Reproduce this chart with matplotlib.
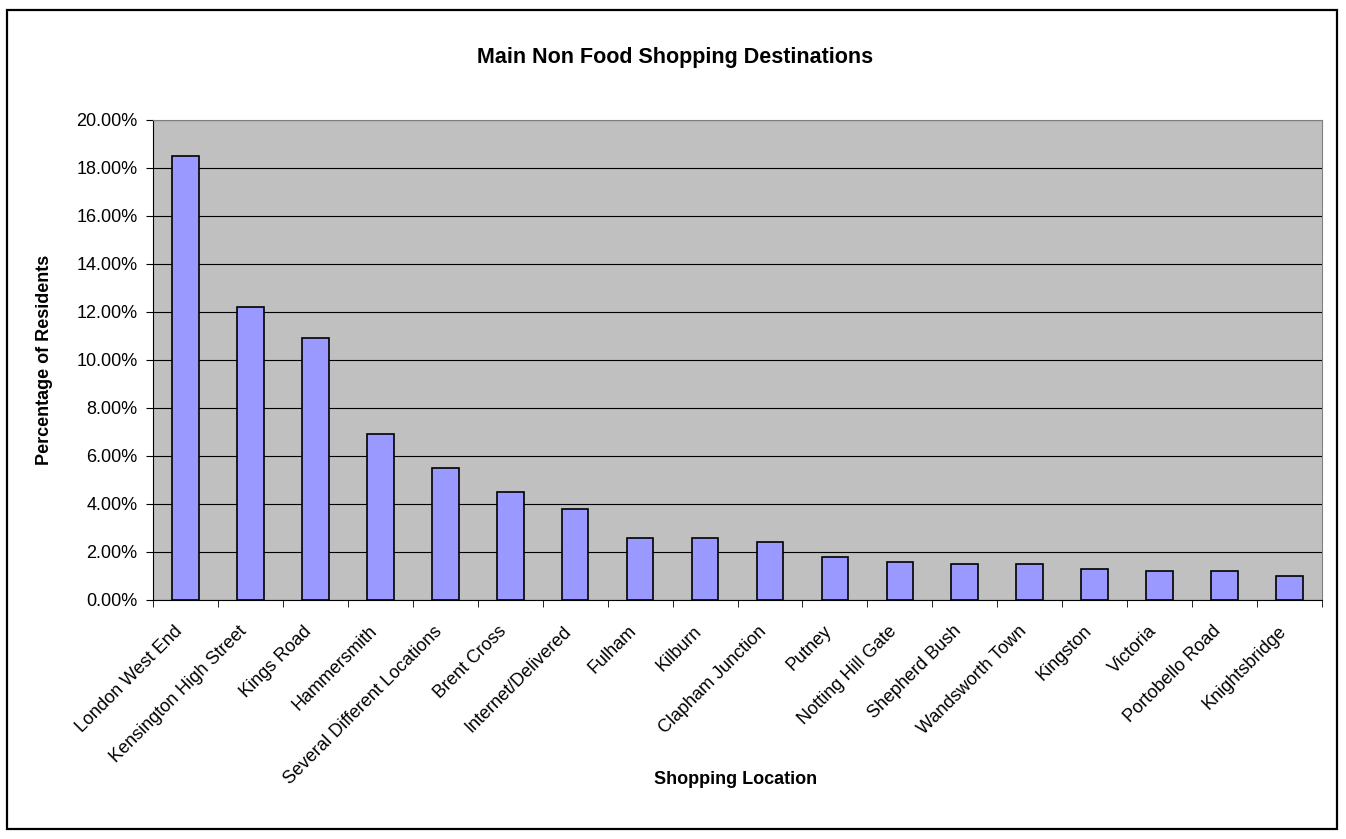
import matplotlib

matplotlib.use("Agg")
import matplotlib.pyplot as plt
import numpy as np
from matplotlib.patches import Rectangle
from matplotlib.ticker import FuncFormatter, FixedLocator, NullFormatter
from matplotlib.transforms import ScaledTranslation

plt.rcParams["font.family"] = ["Liberation Sans", "DejaVu Sans"]

locations = [
    "London West End", "Kensington High Street", "Kings Road", "Hammersmith",
    "Several Different Locations", "Brent Cross", "Internet/Delivered", "Fulham",
    "Kilburn", "Clapham Junction", "Putney", "Notting Hill Gate", "Shepherd Bush",
    "Wandsworth Town", "Kingston", "Victoria", "Portobello Road", "Knightsbridge",
]
share = [18.5, 12.2, 10.9, 6.9, 5.5, 4.5, 3.8, 2.6, 2.6, 2.4,
         1.8, 1.6, 1.5, 1.5, 1.3, 1.2, 1.2, 1.0]
y_ticks = [0, 2, 4, 6, 8, 10, 12, 14, 16, 18, 20]

W, H = 1346, 839
fig = plt.figure(figsize=(W / 100, H / 100), dpi=100)
fig.patches.append(Rectangle((0.0055, 0.012), 0.988, 0.976, transform=fig.transFigure,
                             fill=False, edgecolor="black", linewidth=1.6))

ax = fig.add_axes([153 / W, 1 - 600 / H, (1322 - 153) / W, 480 / H])
ax.set_facecolor("#C0C0C0")
x = np.arange(len(locations))
ax.bar(x, share, width=0.41, color="#9999FF", edgecolor="black", linewidth=1.2, zorder=3)

ax.set_xlim(-0.5, len(locations) - 0.5)
ax.set_ylim(0, 20)
ax.set_yticks(y_ticks)
ax.yaxis.set_major_formatter(FuncFormatter(lambda v, _: f"{v:.2f}%"))
ax.grid(axis="y", color="black", linewidth=0.8, zorder=1)
ax.tick_params(axis="y", direction="out", length=5, labelsize=13, pad=6)

# category labels centred on bars, tick marks between categories
ax.set_xticks(x)
ax.set_xticklabels(locations, rotation=45, ha="right", va="top",
                   rotation_mode="anchor", fontsize=13)
ax.tick_params(axis="x", which="major", length=0, pad=12)
nudge = ScaledTranslation(-0.12, -0.06, fig.dpi_scale_trans)
for lbl in ax.get_xticklabels():
    lbl.set_transform(lbl.get_transform() + nudge)
ax.xaxis.set_minor_locator(FixedLocator(np.arange(len(locations) + 1) - 0.5))
ax.xaxis.set_minor_formatter(NullFormatter())
ax.tick_params(axis="x", which="minor", direction="out", length=5)

for side in ("top", "right"):
    ax.spines[side].set_color("#808080")
for side in ("left", "bottom"):
    ax.spines[side].set_color("black")

fig.text(45 / W, 1 - 360 / H, "Percentage of Residents", rotation=90,
         ha="center", va="center", fontsize=13, fontweight="bold")
fig.text(736 / W, 1 - 780 / H, "Shopping Location", ha="center", va="center",
         fontsize=13, fontweight="bold")
fig.text(675 / W, 1 - 57 / H, "Main Non Food Shopping Destinations", ha="center",
         va="center", fontsize=15.5, fontweight="bold")

fig.savefig("out.png", dpi=100)
plt.close(fig)
